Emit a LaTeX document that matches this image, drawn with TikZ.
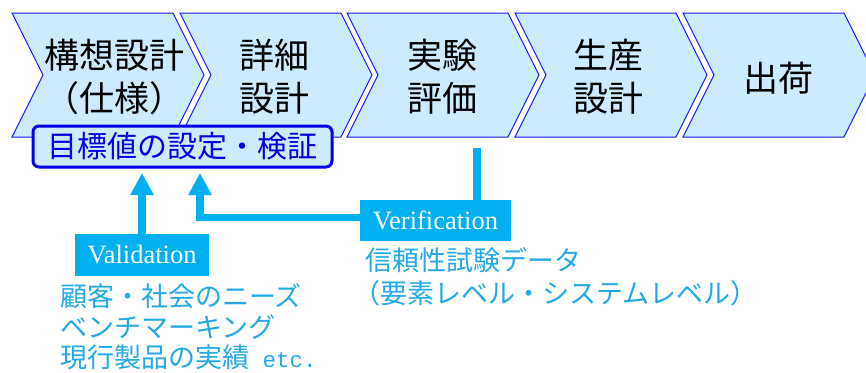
\documentclass[tikz,border=0pt]{standalone}
\usepackage{fontspec}
\setmainfont{Liberation Serif}
\newfontfamily\jp{Noto Sans CJK JP}
\newfontfamily\monoetc{Liberation Mono}
\usetikzlibrary{arrows.meta}
\definecolor{chevfill}{HTML}{CCEBFC}
\definecolor{chevline}{HTML}{1A1AF0}
\definecolor{cyanA}{HTML}{00B0F0}
\definecolor{cyanT}{HTML}{22A9E6}
\definecolor{boxblue}{HTML}{0000E6}
\begin{document}
\begin{tikzpicture}[x=1pt,y=-1pt,
  chev/.style={fill=chevfill,draw=chevline,line width=1pt,line join=miter},
  chevtext/.style={align=center,inner sep=0pt,font=\jp\fontsize{35}{43}\selectfont},
  goalbox/.style={draw=boxblue,fill=chevfill,line width=3pt,rounded corners=6pt,
    minimum width=299pt,minimum height=41pt,inner sep=0pt,text=boxblue,
    font=\jp\fontsize{30}{36}\selectfont},
  tagbox/.style={fill=cyanA,text=white,inner sep=0pt,font=\fontsize{26.5}{30}\selectfont},
  conn/.style={draw=cyanA,line width=7.5pt},
  bigtip/.style={-{Triangle[length=22pt,width=22pt]}},
  lowtext/.style={anchor=west,inner sep=0pt,text=cyanT,font=\jp\fontsize{27}{32}\selectfont}]
\useasboundingbox (0,0) rectangle (866,372);
% chevrons
\foreach \L in {12,180,347,515,683}
  \draw[chev] (\L,13) -- ++(161,0) -- ++(31,62) -- ++(-31,62) -- ++(-161,0) -- ++(31,-62) -- cycle;
\node[chevtext] (t1) at (114,76.5) {構想設計\\（仕様）};
\node[chevtext] (t2) at (274,76.5) {詳細\\設計};
\node[chevtext] (t3) at (442,76.5) {実験\\評価};
\node[chevtext] (t4) at (608,76.5) {生産\\設計};
\node[chevtext] (t5) at (778,78) {出荷};
% goal box
\node[goalbox] (goal) at (182.5,146.5) {目標値の設定・検証};
% tag boxes
\node[tagbox,minimum width=151pt,minimum height=41pt] (verif) at (435.5,220.5) {Verification};
\node[tagbox,minimum width=134pt,minimum height=42pt] (valid) at (142,255) {Validation};
% connectors
\coordinate (vtop) at (477,148);
\coordinate (tipA) at (143,173);
\coordinate (tipB) at (200,173);
\draw[conn] (vtop) -- (vtop |- verif.north);
\draw[conn,bigtip] ([yshift=3pt]verif.west) -| (tipB);
\draw[conn,bigtip] (valid.north) -- (valid.north |- tipA);
% lower texts
\node[lowtext] (n1) at (60,296) {顧客・社会のニーズ};
\node[lowtext] (n2) at (60,327) {ベンチマーキング};
\node[lowtext] (n3) at (60,357) {現行製品の実績{\monoetc\fontsize{22.5}{27}\selectfont\ etc.}};
\node[lowtext] (n4) at (365,260) {信頼性試験データ};
\node[lowtext] (n5) at (353,293) {（要素レベル・システムレベル）};
\end{tikzpicture}
\end{document}
